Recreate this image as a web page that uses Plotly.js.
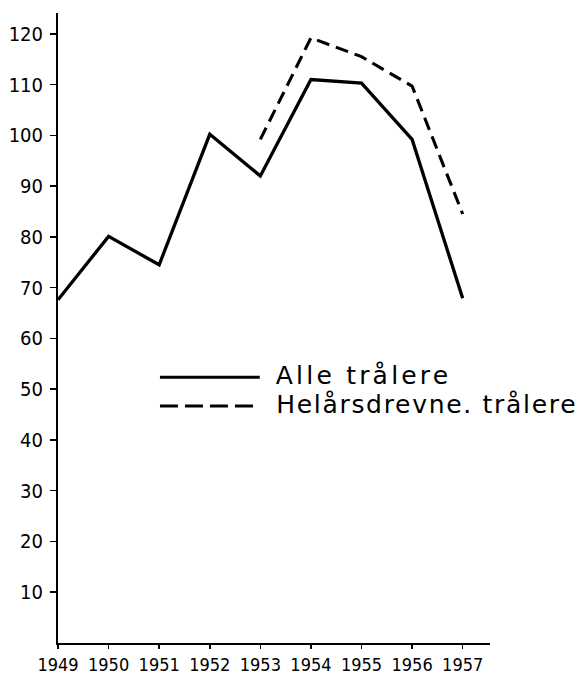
<!DOCTYPE html>
<html>
<head>
<meta charset="utf-8">
<script src="https://cdn.plot.ly/plotly-3.0.1.min.js"></script>
<style>html,body{margin:0;padding:0;background:#fff;}#chart{width:585px;height:674px;}</style>
</head>
<body>
<div id="chart"></div>
<script>
const years = [1949, 1950, 1951, 1952, 1953, 1954, 1955, 1956, 1957];
const alleTralere = [67.6, 80.1, 74.5, 100.2, 92.0, 111.0, 110.3, 99.2, 67.9];
const helarsYears = [1953, 1954, 1955, 1956, 1957];
const helarsTralere = [99.2, 119.2, 115.5, 109.7, 84.5];
const yTicks = [10, 20, 30, 40, 50, 60, 70, 80, 90, 100, 110, 120];
const xTickLabels = ["1949", "1950", "1951", "1952", "1953", "1954", "1955", "1956", "1957"];
const legendNames = ["Alle trålere", "Helårsdrevne. trålere"];

const fontFam = "DejaVu Sans Condensed, DejaVu Sans, sans-serif";
const spacingPx = [3.2, 1.7];
const plotW = 585 - 58 - 95;

const traces = [
  {x: years, y: alleTralere, type: "scatter", mode: "lines", name: legendNames[0],
   line: {color: "#000", width: 3.3}, hoverinfo: "skip"},
  {x: helarsYears, y: helarsTralere, type: "scatter", mode: "lines", name: legendNames[1],
   line: {color: "#000", width: 3.1, dash: "13px,7px"}, hoverinfo: "skip"}
];

function shiftFor(i) {
  return (legendNames[i].length * spacingPx[i] / 2) / plotW;
}

const layout = {
  width: 585, height: 674,
  margin: {l: 58, r: 95, t: 13, b: 31},
  paper_bgcolor: "#fff", plot_bgcolor: "#fff",
  showlegend: false,
  font: {family: fontFam, color: "#000"},
  xaxis: {
    range: [1949, 1957.54], showgrid: false, zeroline: false,
    showline: true, linecolor: "#000", linewidth: 2,
    tickvals: years, ticktext: xTickLabels,
    ticks: "outside", ticklen: 4, tickwidth: 1.5, tickcolor: "#000",
    tickfont: {family: fontFam, size: 18, color: "#000"},
    ticklabelstandoff: 0
  },
  yaxis: {
    range: [0, 124.1], showgrid: false, zeroline: false,
    showline: true, linecolor: "#000", linewidth: 2,
    tickvals: yTicks,
    ticks: "outside", ticklen: 6, tickwidth: 1.5, tickcolor: "#000",
    tickfont: {family: fontFam, size: 20, color: "#000"},
    ticklabelstandoff: 3
  },
  shapes: [
    {type: "line", xref: "paper", yref: "paper", x0: 0.236, x1: 0.467, y0: 0.422, y1: 0.422,
     line: {color: "#000", width: 3}},
    {type: "line", xref: "paper", yref: "paper", x0: 0.236, x1: 0.467, y0: 0.376, y1: 0.376,
     line: {color: "#000", width: 3, dash: "18px,7px"}}
  ],
  annotations: [
    {xref: "paper", yref: "paper", x: 0.500 + shiftFor(0), y: 0.425, xanchor: "left", yanchor: "middle",
     text: legendNames[0], showarrow: false, font: {family: "DejaVu Sans, sans-serif", size: 25, color: "#000"}},
    {xref: "paper", yref: "paper", x: 0.500 + shiftFor(1), y: 0.379, xanchor: "left", yanchor: "middle",
     text: legendNames[1], showarrow: false, font: {family: "DejaVu Sans, sans-serif", size: 25, color: "#000"}}
  ]
};

Plotly.newPlot("chart", traces, layout, {staticPlot: true, displayModeBar: false}).then(function () {
  document.querySelectorAll("#chart .annotation-text").forEach(function (el, i) {
    el.style.letterSpacing = (spacingPx[i] || 0) + "px";
  });
});
</script>
</body>
</html>
